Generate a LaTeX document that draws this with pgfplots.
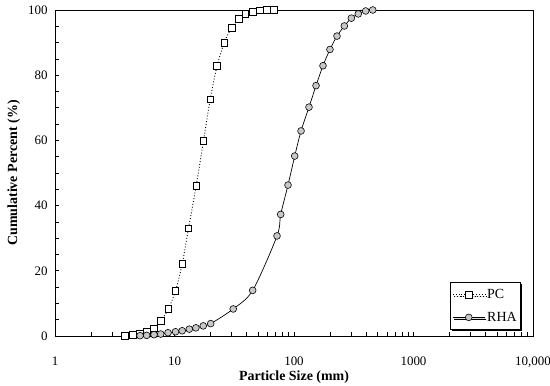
\documentclass[border=0pt]{standalone}
\usepackage{fontspec}
\setmainfont{Liberation Serif}
\usepackage{pgfplots}
\pgfplotsset{compat=1.18}
\usetikzlibrary{shadows}
\definecolor{markgray}{RGB}{200,200,200}
\pgfplotstableread{
x y
3.85 0
4.47 0.3
5.15 0.8
5.85 1.3
6.74 2.4
7.71 4.7
8.88 8.3
10.2 13.9
11.6 22.1
13.1 33.0
15.2 46.1
17.5 59.9
19.9 72.6
22.7 82.8
26.1 90.0
30.1 94.6
34.6 97.2
39.2 98.8
45.1 99.5
51.6 99.9
59.1 100
67.6 100
}\pcdata
\pgfplotstableread{
x y
5.15 0.1
5.85 0.2
6.74 0.4
7.67 0.6
8.83 1.0
10.2 1.3
11.6 1.6
13.3 2.1
15.1 2.5
17.4 3.1
20.1 3.8
31.0 8.3
45.1 14.0
72.1 30.7
77.4 37.3
89.1 46.3
101.4 55.2
114.5 62.9
133.5 70.2
152.9 76.8
174.8 82.9
200 87.9
229 92.0
264 95.1
302 97.5
345 98.8
398 99.7
456 100
}\rhadata
\begin{document}
\begin{tikzpicture}
\begin{semilogxaxis}[
  scale only axis,
  width=478bp, height=326bp,
  xmin=1, xmax=10000, ymin=0, ymax=100,
  xtick={1,10,100,1000,10000},
  xticklabels={1,10,100,1000,{10,000}},
  ytick={0,20,40,60,80,100},
  minor y tick num=3,
  xtick pos=bottom, ytick pos=left,
  tick align=inside,
  major tick length=4bp, minor tick length=4bp,
  axis line style={line width=0.9pt},
  tick style={line width=0.6pt, black},
  every tick label/.append style={font=\fontsize{13}{15}\selectfont},
  /pgf/number format/assume math mode=true,
  xticklabel style={yshift=-17bp},
  yticklabel style={xshift=-4bp},
  xlabel={\textbf{Particle Size (mm)}},
  ylabel={\textbf{Cumulative Percent (\%)}},
  label style={font=\fontsize{14}{16}\selectfont},
  xlabel style={yshift=3bp},
  ylabel style={yshift=1bp},
  legend cell align=left,
  legend style={at={(rel axis cs:0.975,0.018)}, anchor=south east,
    draw=black, line width=0.8pt, fill=white,
    font=\fontsize{14}{16}\selectfont,
    drop shadow={shadow xshift=1.5bp, shadow yshift=-1.5bp, fill=black, opacity=1},
    row sep=8bp, inner xsep=2bp, inner ysep=5bp},
  legend image code/.code={\draw[mark repeat=2,mark phase=2,#1]
    plot coordinates {(0bp,0bp) (16bp,0bp) (32bp,0bp)};},
]
\addplot[black, dotted, line width=0.9pt, smooth, mark=square*,
  mark size=3.3bp, mark options={solid, fill=white, draw=black, line width=0.7pt}]
  table[x=x,y=y] {\pcdata};
\addlegendentry{PC}
\addplot[black, line width=0.7pt, smooth, mark=*,
  mark size=3.4bp, mark options={fill=markgray, draw=black, line width=0.6pt}]
  table[x=x,y=y] {\rhadata};
\addlegendentry{RHA}
\end{semilogxaxis}
\pgfresetboundingbox
\path[use as bounding box] ([xshift=-55bp,yshift=-50bp]current axis.south west) rectangle ([xshift=17bp,yshift=10bp]current axis.north east);
\end{tikzpicture}
\end{document}
